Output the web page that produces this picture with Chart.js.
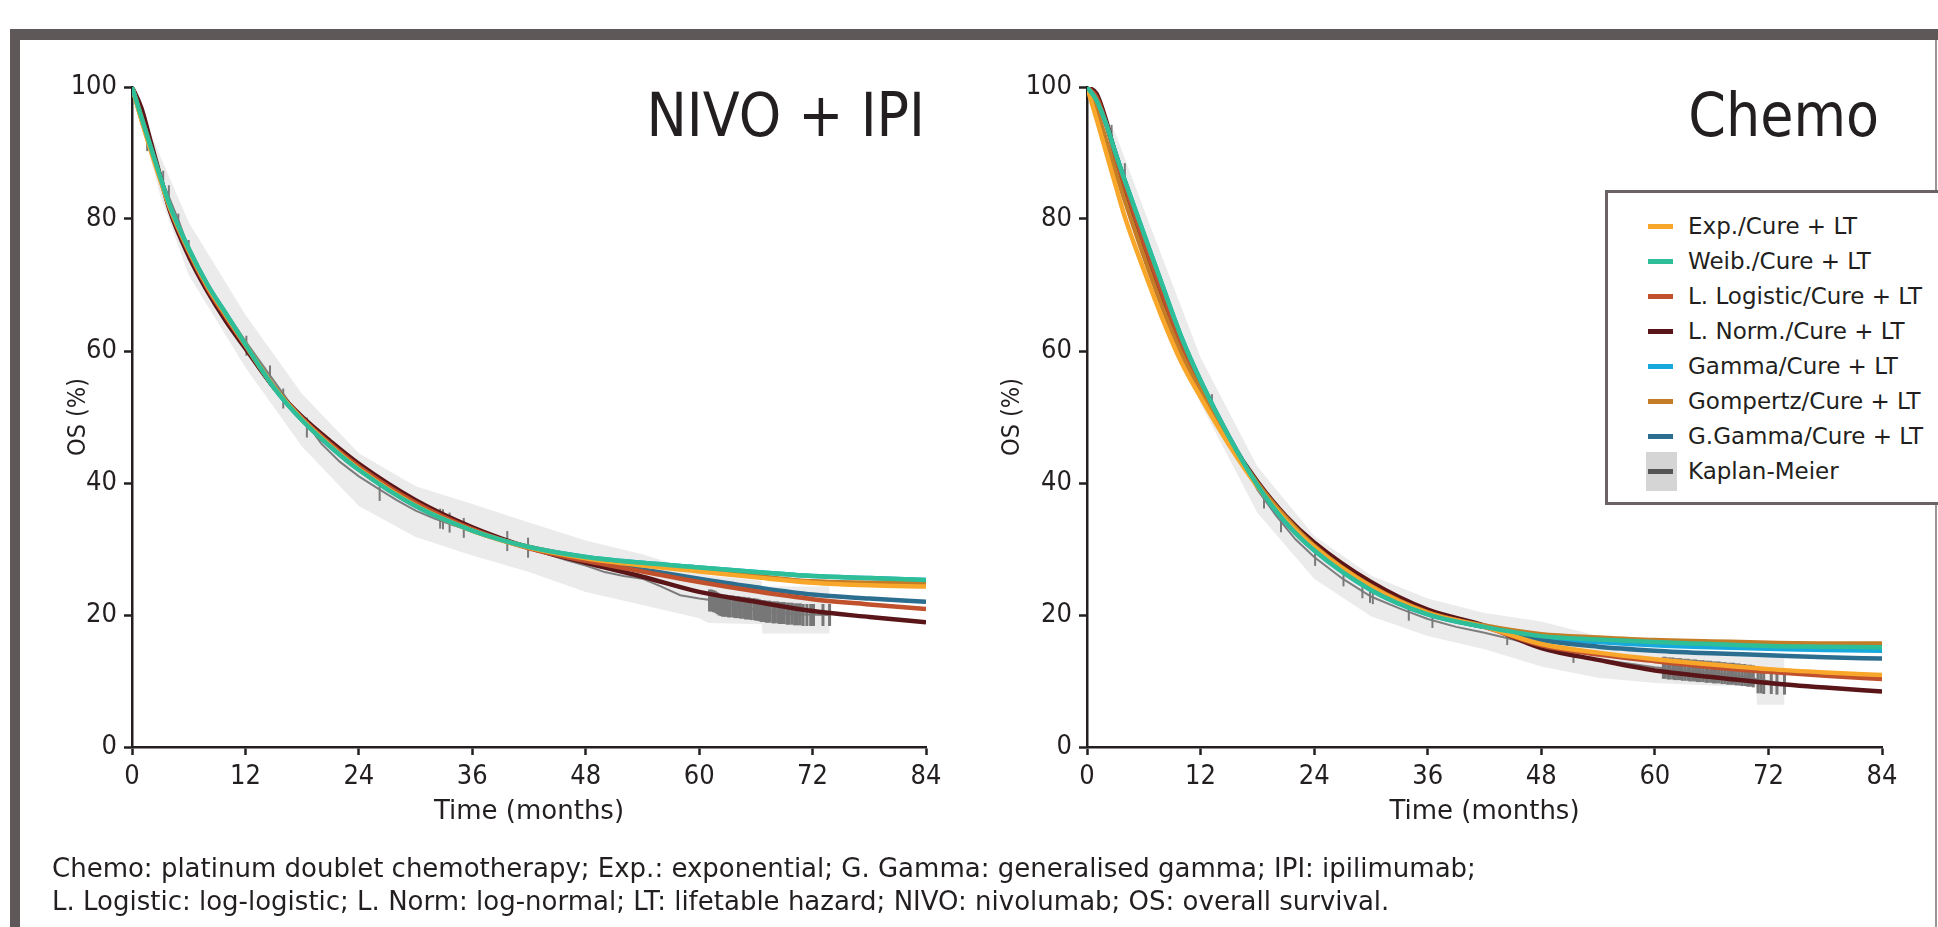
<!DOCTYPE html>
<html lang="en">
<head>
<meta charset="utf-8">
<title>OS model fits</title>
<script src="https://cdn.jsdelivr.net/npm/chart.js@4.4.1/dist/chart.umd.min.js"></script>
<style>
  html, body { margin: 0; padding: 0; background: #fff; }
  body { position: relative; width: 1938px; height: 927px; overflow: hidden; color: #231f20; }
  #frame { position: absolute; left: 10px; top: 29px; width: 1928px; height: 898px; box-sizing: border-box;
           border-top: 11px solid #5f5858; border-left: 10px solid #5f5858; }
  #edge { position: absolute; left: 1935px; top: 40px; width: 2px; height: 887px; background: #9a9494; }
  canvas { position: absolute; top: 50px; }
  #nivo { left: 0; }
  #chemo { left: 960px; }
  .panel-title { position: absolute; top: 85px; font-family: "DejaVu Sans Condensed", "DejaVu Sans", sans-serif;
                 font-size: 60px; line-height: 60px; white-space: nowrap; }
  #legend { position: absolute; left: 1605px; top: 190px; width: 400px; height: 315px; box-sizing: border-box;
            border: 3px solid #6b6363; background: #fff; font-family: "DejaVu Sans", sans-serif; font-size: 23px; }
  #legend .row { position: absolute; left: 0; height: 34px; line-height: 34px; white-space: nowrap; }
  #legend .sw { position: absolute; left: 40px; top: 15px; width: 25px; height: 5px; }
  #legend .kmbox { position: absolute; left: 38px; top: -2px; width: 31px; height: 39px; background: #d5d5d5; }
  #legend .lbl { position: absolute; left: 80px; top: 0; }
  #note { position: absolute; left: 52px; top: 852px; font-family: "DejaVu Sans", sans-serif;
          font-size: 26px; line-height: 33px; white-space: nowrap; }
</style>
</head>
<body>
<div id="frame"></div>
<div id="edge"></div>
<canvas id="nivo" width="960" height="830"></canvas>
<canvas id="chemo" width="978" height="830"></canvas>
<div class="panel-title" style="right:1013px">NIVO + IPI</div>
<div class="panel-title" style="right:59px">Chemo</div>
<div id="legend"></div>
<div id="note">Chemo: platinum doublet chemotherapy; Exp.: exponential; G. Gamma: generalised gamma; IPI: ipilimumab;<br>L. Logistic: log-logistic; L. Norm: log-normal; LT: lifetable hazard; NIVO: nivolumab; OS: overall survival.</div>
<script>
// model names and colours, in legend order
const modelLabels = ["Exp./Cure + LT", "Weib./Cure + LT", "L. Logistic/Cure + LT", "L. Norm./Cure + LT",
  "Gamma/Cure + LT", "Gompertz/Cure + LT", "G.Gamma/Cure + LT"];
const modelColors = ["#f9a72b", "#2ebf98", "#c0512c", "#5a1518", "#17a8de", "#c47c26", "#2b6e8f"];
// lower = drawn on top (Weib. ends up above the rest)
const modelOrder = [2, 1, 4, 6, 7, 3, 5];

const xTicks = [0, 12, 24, 36, 48, 60, 72, 84];
const yTicks = [0, 20, 40, 60, 80, 100];

// months at which the fitted curves were read
const tFit = [0, 1, 2, 3, 4, 6, 8, 10, 12, 15, 18, 21, 24, 30, 36, 42, 48, 54, 60, 66, 72, 78, 84];

// ---- NIVO + IPI ----
const nivoExp   = [100, 95, 90.3, 85.9, 81.8, 75.3, 69.8, 65.3, 61, 54.6, 49.6, 45.6, 42.1, 36.6, 32.8, 30.2, 28.6, 27.5, 26.6, 25.7, 24.9, 24.5, 24.3];
const nivoWeib  = [100, 95.4, 90.8, 86.3, 82, 75.5, 70, 65.5, 61, 54.5, 49.5, 45.5, 42, 36.5, 32.8, 30.3, 28.8, 27.9, 27.2, 26.5, 25.9, 25.6, 25.3];
const nivoLLog  = [100, 95.5, 90.8, 86.1, 81.6, 75, 69.5, 65, 60.8, 54.6, 49.8, 45.9, 42.5, 37, 33, 30.1, 28.2, 26.6, 25, 23.6, 22.4, 21.6, 20.9];
const nivoLNorm = [100, 96.8, 91.6, 86.4, 81.3, 74.4, 69, 64.4, 60.4, 54.5, 50, 46.3, 42.9, 37.4, 33.3, 30.2, 27.9, 25.8, 23.5, 22, 20.6, 19.7, 18.9];
const nivoGamma = [100, 95.4, 90.8, 86.3, 82, 75.5, 70, 65.5, 61, 54.5, 49.5, 45.5, 42, 36.5, 32.8, 30.3, 28.8, 27.9, 27.2, 26.5, 25.9, 25.6, 25.3];
const nivoGomp  = [100, 95.1, 90.5, 86.1, 81.9, 75.4, 69.9, 65.4, 61, 54.6, 49.6, 45.6, 42.1, 36.6, 32.8, 30.3, 28.7, 27.7, 26.8, 25.9, 25.1, 24.9, 24.8];
const nivoGGam  = [100, 95.4, 90.8, 86.2, 81.8, 75.2, 69.7, 65.2, 61, 54.6, 49.7, 45.8, 42.4, 36.8, 32.9, 30.2, 28.4, 26.9, 25.5, 24.2, 23.1, 22.5, 22];

const kmNivoT = [0, 1, 2, 3, 4, 5, 6, 7, 8, 10, 12, 14, 16, 17, 18, 19, 20, 22, 24, 26, 28, 30, 32, 34, 36, 38, 40, 42, 44, 46, 48, 50, 52, 54, 56, 58, 60, 61, 64, 67, 70, 73.8];
const kmNivoV = [100, 95.5, 91, 86.5, 83, 79.5, 75.5, 72.5, 70, 65.8, 61.5, 57.5, 53.5, 51.5, 49.5, 48, 46, 43.2, 41, 39.2, 37.4, 35.8, 34.6, 33.6, 32.8, 31.8, 30.8, 30.2, 29.2, 28.3, 27.5, 26.5, 25.9, 25.5, 24.3, 23, 22.5, 22.3, 21.3, 20.6, 20.1, 20];

const bandNivoT  = [0, 3, 6, 12, 18, 24, 30, 36, 42, 48, 54, 60, 61, 66.6, 66.7, 73.8];
const bandNivoHi = [100, 89.5, 79.5, 65.5, 53.5, 44.5, 39.5, 36.8, 34, 31.3, 29.2, 26.5, 26, 25.2, 24.3, 24.3];
const bandNivoLo = [100, 83.5, 71.5, 57.5, 45.5, 36.5, 31.8, 29, 26.5, 23.5, 21.5, 19.5, 18.8, 18.6, 17.2, 17.2];

const cenNivoT = [1.6, 3.3, 3.9, 4.9, 6, 12.1, 14.6, 16, 18.5, 26.2, 32.6, 32.9, 33.6, 35.1, 39.7, 41.9];
const cenNivoV = [91.8, 85.8, 83.6, 79.3, 75.3, 60.8, 56.3, 52.8, 48.4, 38.8, 34.6, 34.5, 34, 33.2, 31.2, 30.2];
const blockNivoT = [61.1, 61.3, 61.5, 61.7, 61.9, 62.1, 62.3, 62.5, 62.7, 62.9, 63.1, 63.3, 63.6, 63.8, 64, 64.2, 64.4, 64.7, 64.9, 65.1, 65.3, 65.5, 65.8, 66, 66.2, 66.4, 66.6, 66.9, 67.1, 67.3, 67.5, 67.8, 68, 68.3, 68.5, 68.8, 69, 69.3, 69.5, 69.8, 70.1, 70.4, 70.7, 71, 71.4, 71.8, 72.1, 73.1, 73.8];
const blockNivoV = [22.2, 22.2, 22.1, 22, 21.8, 21.6, 21.5, 21.4, 21.4, 21.4, 21.3, 21.3, 21.3, 21.2, 21.2, 21.2, 21.1, 21.1, 21, 21, 21, 20.9, 20.9, 20.8, 20.8, 20.7, 20.6, 20.6, 20.5, 20.5, 20.5, 20.4, 20.4, 20.4, 20.3, 20.3, 20.3, 20.2, 20.2, 20.2, 20.1, 20.1, 20.1, 20, 20, 20, 20, 20, 20];

// ---- Chemo ----
const chemoExp   = [100, 95.2, 90.2, 85.2, 80.3, 72.3, 64.8, 58.2, 53, 45.8, 39.5, 34.4, 30.3, 24.3, 20.3, 18.2, 15.6, 14.3, 13.3, 12.5, 11.8, 11.3, 10.9];
const chemoWeib  = [100, 98, 94.5, 90, 85.8, 77.8, 69.8, 62, 55.5, 47, 39.7, 34, 29.8, 23.8, 20.1, 18.2, 16.8, 16.3, 15.9, 15.6, 15.3, 15.2, 15.1];
const chemoLLog  = [100, 98.5, 94.5, 89.5, 85, 76.5, 68.5, 61, 54.8, 46.5, 39.7, 34.4, 30.2, 24.4, 20.4, 18.2, 15.4, 14, 13, 12.1, 11.4, 10.8, 10.3];
const chemoLNorm = [100, 99, 95, 89.5, 84.5, 76, 68, 60.7, 54.5, 46.6, 40.2, 35, 31, 25, 20.8, 18.4, 15, 13.2, 11.6, 10.6, 9.7, 9, 8.4];
const chemoGamma = [100, 98, 94.5, 90, 85.8, 77.8, 69.8, 62, 55.5, 47, 39.7, 34, 29.8, 23.8, 20.1, 18.2, 16.6, 15.9, 15.4, 15.1, 14.9, 14.7, 14.6];
const chemoGomp  = [100, 96.5, 92, 87.3, 82.8, 74.4, 66.5, 59.5, 54, 46.4, 40, 34.8, 30.5, 24.4, 20.4, 18.4, 17.1, 16.6, 16.2, 16, 15.8, 15.7, 15.7];
const chemoGGam  = [100, 98, 94.5, 90, 85.7, 77.5, 69.5, 61.8, 55.4, 47, 39.8, 34.2, 30, 24, 20.2, 18.2, 16.2, 15.2, 14.6, 14.2, 13.9, 13.6, 13.4];

const kmChemoT = [0, 1, 2, 3, 4, 5, 6, 7, 8, 9, 10, 11, 12, 14, 16, 18, 20, 22, 24, 27, 30, 33, 36, 39, 42, 45, 48, 51, 54, 57, 60, 63, 66, 69, 71, 73.7];
const kmChemoV = [100, 98.5, 95, 90.5, 86, 82, 78, 74, 69.5, 65, 61.5, 58.5, 55.5, 50, 44.5, 39, 35, 31.5, 28.8, 25.5, 22.8, 21, 19.4, 18.2, 17.3, 16.3, 15.2, 13.9, 13.3, 12.7, 12.1, 11.6, 11.2, 10.8, 10.2, 9.6];

const bandChemoT  = [0, 3, 6, 12, 18, 24, 30, 36, 42, 48, 54, 60, 66, 70.7, 70.8, 73.7];
const bandChemoHi = [100, 93, 81.5, 59, 42.5, 32, 26, 22.5, 20.3, 19, 16.8, 14.8, 14.2, 13.8, 13.8, 13.8];
const bandChemoLo = [100, 88, 74.5, 52, 35.5, 25.5, 19.8, 16.8, 14.8, 12.2, 10.5, 9.7, 9.3, 9.2, 6.4, 6.4];

const cenChemoT = [0.3, 2.6, 4, 9.9, 13.2, 18.7, 20.5, 24.1, 27.1, 29.1, 29.9, 30.2, 34, 36.5, 44.4, 51.4];
const cenChemoV = [100, 93.2, 87.4, 61, 52.4, 37.2, 33.6, 28.5, 25.4, 23.6, 22.9, 22.7, 20.2, 19.1, 16.5, 13.8];
const blockChemoT = [60.9, 61.1, 61.4, 61.6, 61.9, 62.1, 62.4, 62.7, 62.9, 63.2, 63.5, 63.7, 64, 64.3, 64.5, 64.8, 65.1, 65.4, 65.6, 65.9, 66.2, 66.5, 66.8, 67.1, 67.4, 67.7, 68, 68.3, 68.6, 68.9, 69.2, 69.5, 69.8, 70.1, 70.4, 70.9, 71.2, 71.5, 72.3, 72.9, 73.7];
const blockChemoV = [12, 12, 11.9, 11.9, 11.9, 11.8, 11.8, 11.8, 11.7, 11.7, 11.7, 11.6, 11.6, 11.6, 11.5, 11.5, 11.5, 11.4, 11.4, 11.4, 11.3, 11.3, 11.3, 11.2, 11.2, 11.1, 11.1, 11.1, 11, 11, 10.9, 10.9, 10.8, 10.8, 10.7, 9.8, 9.8, 9.7, 9.7, 9.6, 9.6];

const ink = "#231f20";
const tickFont = { family: "'Liberation Sans Narrow', 'DejaVu Sans Condensed', sans-serif", size: 27 };
const xTitleFont = { family: "'DejaVu Sans', sans-serif", size: 26 };
const yTitleFont = { family: "'Liberation Sans Narrow', 'DejaVu Sans Condensed', sans-serif", size: 25 };

function pts(xs, ys) {
  return xs.map((x, i) => ({ x: x, y: ys[i] }));
}

function makeChart(id, curves, km, geo) {
  const datasets = curves.map((vals, i) => ({
    label: modelLabels[i],
    data: pts(tFit, vals),
    borderColor: modelColors[i],
    borderWidth: 4.5,
    pointRadius: 0,
    cubicInterpolationMode: "monotone",
    fill: false,
    order: modelOrder[i]
  }));
  datasets.push({
    label: "censored", data: pts(km.cenT, km.cenV), showLine: false,
    pointStyle: "line", rotation: 90, pointRadius: geo.cenSize, borderColor: "#7a7a7a",
    pointBorderColor: "#7a7a7a", pointBorderWidth: 2, order: 8
  });
  datasets.push({
    label: "censored block", data: pts(km.blockT, km.blockV), showLine: false,
    pointStyle: "line", rotation: 90, pointRadius: 11, borderColor: "#777",
    pointBorderColor: "#777", pointBorderWidth: 3, order: 9
  });
  datasets.push({
    label: "Kaplan-Meier", data: pts(km.t, km.v), borderColor: "#7d7d7d", borderWidth: 2,
    pointRadius: 0, tension: 0, fill: false, order: 10
  });
  datasets.push({
    label: "ci upper", data: pts(km.bandT, km.hi), borderWidth: 0, borderColor: "rgba(0,0,0,0)",
    pointRadius: 0, tension: 0, fill: false, order: 11
  });
  datasets.push({
    label: "ci lower", data: pts(km.bandT, km.lo), borderWidth: 0, borderColor: "rgba(0,0,0,0)",
    backgroundColor: "#ebebeb", pointRadius: 0, tension: 0, fill: "-1", order: 12
  });

  return new Chart(document.getElementById(id), {
    type: "line",
    data: { datasets: datasets },
    options: {
      responsive: false,
      animation: false,
      devicePixelRatio: 1,
      layout: { padding: { top: 37, right: geo.padRight, bottom: 0, left: 0 } },
      plugins: { legend: { display: false }, tooltip: { enabled: false } },
      scales: {
        x: {
          type: "linear", min: 0, max: 84,
          afterBuildTicks: (s) => { s.ticks = xTicks.map((v) => ({ value: v })); },
          afterFit: (s) => { s.height = 133; },
          ticks: { color: ink, font: tickFont, padding: 6, maxRotation: 0 },
          grid: { drawOnChartArea: false, drawTicks: true, tickLength: 8, tickWidth: 2.5, tickColor: ink },
          border: { display: true, color: ink, width: 2.5 },
          title: { display: true, text: "Time (months)", color: ink, font: xTitleFont, padding: { top: 0, bottom: 52 } }
        },
        y: {
          type: "linear", min: 0, max: 100,
          afterBuildTicks: (s) => { s.ticks = yTicks.map((v) => ({ value: v })); },
          afterFit: (s) => { s.width = geo.yWidth; },
          ticks: { color: ink, font: tickFont, padding: 7 },
          grid: { drawOnChartArea: false, drawTicks: true, tickLength: 8, tickWidth: 2.5, tickColor: ink },
          border: { display: true, color: ink, width: 2.5 },
          title: { display: true, text: "OS (%)", color: ink, font: yTitleFont, padding: { top: geo.yTitlePad, bottom: 0 } }
        }
      }
    }
  });
}

makeChart("nivo",
  [nivoExp, nivoWeib, nivoLLog, nivoLNorm, nivoGamma, nivoGomp, nivoGGam],
  { t: kmNivoT, v: kmNivoV, bandT: bandNivoT, hi: bandNivoHi, lo: bandNivoLo,
    cenT: cenNivoT, cenV: cenNivoV, blockT: blockNivoT, blockV: blockNivoV },
  { padRight: 34, yWidth: 132, yTitlePad: 63, cenSize: 10 });

makeChart("chemo",
  [chemoExp, chemoWeib, chemoLLog, chemoLNorm, chemoGamma, chemoGomp, chemoGGam],
  { t: kmChemoT, v: kmChemoV, bandT: bandChemoT, hi: bandChemoHi, lo: bandChemoLo,
    cenT: cenChemoT, cenV: cenChemoV, blockT: blockChemoT, blockV: blockChemoV },
  { padRight: 56, yWidth: 127, yTitlePad: 37, cenSize: 7 });

// legend box over the right panel
const legend = document.getElementById("legend");
modelLabels.forEach((name, i) => {
  const row = document.createElement("div");
  row.className = "row";
  row.style.top = (16 + i * 35) + "px";
  row.innerHTML = '<span class="sw" style="background:' + modelColors[i] + '"></span><span class="lbl"></span>';
  row.querySelector(".lbl").textContent = name;
  legend.appendChild(row);
});
const kmRow = document.createElement("div");
kmRow.className = "row";
kmRow.style.top = (16 + 7 * 35) + "px";
kmRow.innerHTML = '<span class="kmbox"></span><span class="sw" style="background:#555"></span><span class="lbl">Kaplan-Meier</span>';
legend.appendChild(kmRow);
</script>
</body>
</html>
